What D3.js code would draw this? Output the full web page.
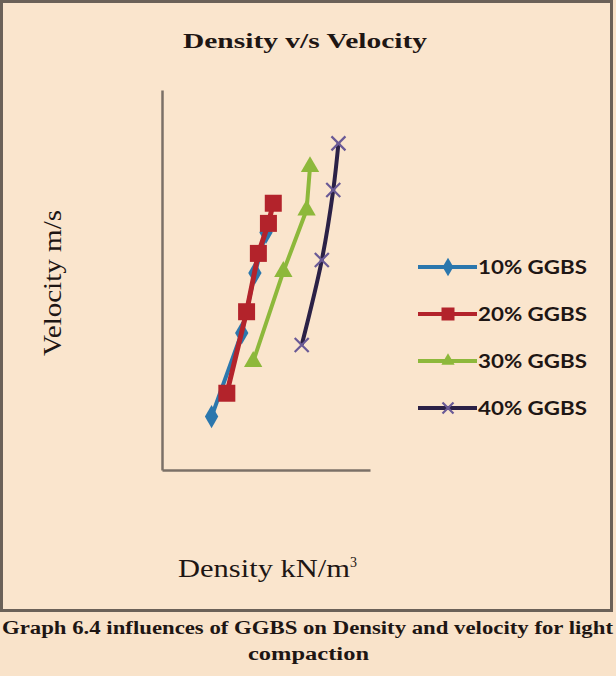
<!DOCTYPE html>
<html>
<head>
<meta charset="utf-8">
<script src="https://cdn.jsdelivr.net/npm/d3@7"></script>
<style>
  html, body { margin: 0; padding: 0; background: #f9e3ca; }
  svg { display: block; }
</style>
</head>
<body>
<script>
// series labels and readings (density kN/m3, velocity m/s)
var seriesNames = ['10% GGBS', '20% GGBS', '30% GGBS', '40% GGBS']

var density10 = [17.43, 18.30, 18.68, 19.00]
var velocity10 = [2781, 3221, 3537, 3750]

var density20 = [17.87, 18.44, 18.78, 19.07, 19.21]
var velocity20 = [2904, 3333, 3640, 3798, 3904]

var density30 = [18.63, 19.50, 20.17, 20.27]
var velocity30 = [3070, 3544, 3868, 4096]

var density40 = [20.03, 20.61, 20.94, 21.09]
var velocity40 = [3158, 3605, 3974, 4219]

var colors = {
  s10: '#2b77ad',
  s20: '#b3232b',
  s30: '#8db83b',
  s40line: '#2b2146',
  s40mark: '#6a5a96',
  axis: '#7b7067',
  frame: '#6b6158',
  text: '#1e1614'
}

var width = 616, height = 676

var svg = d3.select('body').append('svg')
  .attr('width', width)
  .attr('height', height)

// frame round the chart
svg.append('rect')
  .attr('x', 1.5).attr('y', 1.5)
  .attr('width', 610).attr('height', 609)
  .attr('fill', '#fae5cd')
  .attr('stroke', colors.frame)
  .attr('stroke-width', 3)

var x = d3.scaleLinear().domain([16, 22]).range([162, 370])
var y = d3.scaleLinear().domain([2500, 4500]).range([470, 90])

var series = [
  {name: seriesNames[0], xs: density10, ys: velocity10, color: colors.s10, mark: colors.s10, shape: 'diamond', curve: d3.curveLinear},
  {name: seriesNames[1], xs: density20, ys: velocity20, color: colors.s20, mark: colors.s20, shape: 'square', curve: d3.curveLinear},
  {name: seriesNames[2], xs: density30, ys: velocity30, color: colors.s30, mark: colors.s30, shape: 'triangle', curve: d3.curveLinear},
  {name: seriesNames[3], xs: density40, ys: velocity40, color: colors.s40line, mark: colors.s40mark, shape: 'cross', curve: d3.curveCatmullRom}
]
series.forEach(function (s) {
  s.points = s.xs.map(function (v, i) { return [v, s.ys[i]] })
})

// axes, just the lines, no ticks
svg.append('g')
  .attr('transform', 'translate(0,' + y.range()[0] + ')')
  .call(d3.axisBottom(x).ticks(0).tickSizeOuter(0))
svg.append('g')
  .attr('transform', 'translate(' + x.range()[0] + ',0)')
  .call(d3.axisLeft(y).ticks(0).tickSizeOuter(0))
svg.selectAll('.domain')
  .attr('stroke', colors.axis)
  .attr('stroke-width', 2.5)

function drawMarker (g, shape, color, size) {
  if (shape === 'cross') {
    var h = size / 2
    g.append('path')
      .attr('d', 'M' + (-h) + ',' + (-h) + 'L' + h + ',' + h + 'M' + (-h) + ',' + h + 'L' + h + ',' + (-h))
      .attr('stroke', color)
      .attr('stroke-width', 2.2)
      .attr('fill', 'none')
    return
  }
  var sym = shape === 'diamond' ? d3.symbolDiamond : shape === 'square' ? d3.symbolSquare : d3.symbolTriangle
  var area = shape === 'square' ? size * size : shape === 'diamond' ? size * size * 0.6 : size * size * 0.45
  g.append('path')
    .attr('d', d3.symbol().type(sym).size(area)())
    .attr('fill', color)
}

var line = d3.line()
  .x(function (d) { return x(d[0]) })
  .y(function (d) { return y(d[1]) })

var sizes = {diamond: 16, square: 17, triangle: 18, cross: 14}

var plot = svg.append('g')
series.forEach(function (s) {
  plot.append('path')
    .datum(s.points)
    .attr('d', line.curve(s.curve))
    .attr('fill', 'none')
    .attr('stroke', s.color)
    .attr('stroke-width', s.shape === 'square' ? 5 : 4)
    .attr('stroke-linejoin', 'round')

  plot.append('g').selectAll('g')
    .data(s.points)
    .enter().append('g')
    .attr('transform', function (d) { return 'translate(' + x(d[0]) + ',' + y(d[1]) + ')' })
    .each(function () { drawMarker(d3.select(this), s.shape, s.mark, sizes[s.shape]) })
})

// legend
var legend = svg.append('g')
var legendY = d3.scaleLinear().domain([0, 3]).range([267, 408])
series.forEach(function (s, i) {
  var row = legend.append('g').attr('transform', 'translate(0,' + legendY(i) + ')')
  row.append('line')
    .attr('x1', 418).attr('x2', 477)
    .attr('stroke', s.color)
    .attr('stroke-width', 4)
  var m = row.append('g').attr('transform', 'translate(448,0)')
  drawMarker(m, s.shape, s.mark, s.shape === 'cross' ? 11 : 13)
  row.append('text')
    .attr('x', 478).attr('y', 7)
    .attr('font-family', 'Lato, "Open Sans", sans-serif')
    .attr('font-weight', 'bold')
    .attr('font-size', 18)
    .attr('textLength', 109)
    .attr('lengthAdjust', 'spacingAndGlyphs')
    .attr('fill', colors.text)
    .text(s.name)
})

// titles
svg.append('text')
  .attr('x', 183).attr('y', 48)
  .attr('font-family', '"Liberation Serif", "Times New Roman", serif')
  .attr('font-weight', 'bold')
  .attr('font-size', 21)
  .attr('textLength', 244)
  .attr('lengthAdjust', 'spacingAndGlyphs')
  .attr('fill', colors.text)
  .text('Density v/s Velocity')

svg.append('text')
  .attr('transform', 'translate(61,356) rotate(-90)')
  .attr('font-family', '"Liberation Serif", "Times New Roman", serif')
  .attr('font-size', 25)
  .attr('textLength', 146)
  .attr('lengthAdjust', 'spacingAndGlyphs')
  .attr('fill', colors.text)
  .text('Velocity m/s')

var xLabel = svg.append('text')
  .attr('x', 178).attr('y', 577)
  .attr('font-family', '"Liberation Serif", "Times New Roman", serif')
  .attr('font-size', 25)
  .attr('fill', colors.text)
xLabel.append('tspan')
  .attr('textLength', 172)
  .attr('lengthAdjust', 'spacingAndGlyphs')
  .text('Density kN/m')
xLabel.append('tspan').attr('dy', -10).attr('font-size', 14).text('3')

// caption under the frame
svg.append('text')
  .attr('x', 2).attr('y', 634)
  .attr('font-family', '"Liberation Serif", "Times New Roman", serif')
  .attr('font-weight', 'bold')
  .attr('font-size', 18)
  .attr('textLength', 611)
  .attr('lengthAdjust', 'spacingAndGlyphs')
  .attr('fill', colors.text)
  .text('Graph 6.4 influences of GGBS on Density and velocity for light')

svg.append('text')
  .attr('x', 248).attr('y', 660)
  .attr('font-family', '"Liberation Serif", "Times New Roman", serif')
  .attr('font-weight', 'bold')
  .attr('font-size', 18)
  .attr('textLength', 121)
  .attr('lengthAdjust', 'spacingAndGlyphs')
  .attr('fill', colors.text)
  .text('compaction')
</script>
</body>
</html>
